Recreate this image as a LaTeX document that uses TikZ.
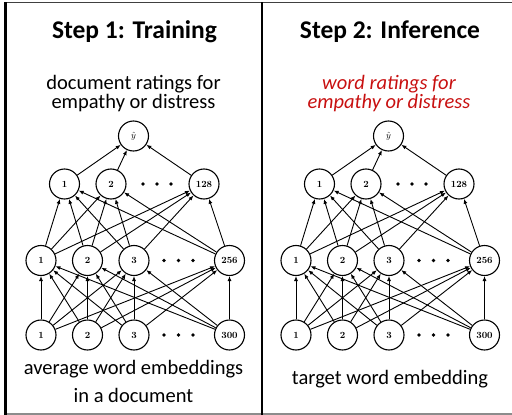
\documentclass[tikz,border=0pt]{standalone}
\usepackage{fontspec}
\newfontfamily\calfont{Carlito}
\usetikzlibrary{arrows.meta}
\definecolor{redtext}{RGB}{200,16,16}
\tikzset{
  neuron/.style={circle, draw, line width=1.1pt, minimum size=30pt, inner sep=0pt,
    font=\bfseries\fontsize{9.5}{10}\selectfont},
  conn/.style={line width=0.9pt, -{Latex[length=5pt,width=4pt]}},
  title/.style={font=\calfont\bfseries\fontsize{25.5}{30}\selectfont, anchor=base, inner sep=0pt},
  caption/.style={font=\calfont\fontsize{20.5}{24}\selectfont, anchor=base, inner sep=0pt},
  redcap/.style={caption, font=\calfont\itshape\fontsize{20.5}{24}\selectfont, text=redtext},
  frame/.style={line width=2.2pt, black},
}
\newcommand\drawnet[2]{%
  \begin{scope}[xshift=#2]
    \node[neuron] (#1y) at (133.5,136) {$\hat y$};
    \node[neuron] (#1a1) at (64.5,184) {1};
    \node[neuron] (#1a2) at (111,184) {2};
    \node[neuron] (#1a3) at (204,184) {128};
    \node[neuron] (#1b1) at (41,260.5) {1};
    \node[neuron] (#1b2) at (87.5,260.5) {2};
    \node[neuron] (#1b3) at (134,260.5) {3};
    \node[neuron] (#1b4) at (229.5,260.5) {256};
    \node[neuron] (#1c1) at (41,335) {1};
    \node[neuron] (#1c2) at (87.5,335) {2};
    \node[neuron] (#1c3) at (134,335) {3};
    \node[neuron] (#1c4) at (229.5,335) {300};
    \foreach \dx in {143,157,171}{\fill (\dx,184) circle (1.8);}
    \foreach \dx in {164,178.5,193}{\fill (\dx,260.5) circle (1.8);\fill (\dx,335) circle (1.8);}
    \foreach \i in {1,...,4}{\foreach \j in {1,...,4}{\draw[conn] (#1c\i) -- (#1b\j);}}
    \foreach \i in {1,...,4}{\foreach \j in {1,...,3}{\draw[conn] (#1b\i) -- (#1a\j);}}
    \foreach \j in {1,...,3}{\draw[conn] (#1a\j) -- (#1y);}
  \end{scope}}
\begin{document}
\begin{tikzpicture}[x=1pt,y=-1pt]
  \useasboundingbox (0,0) rectangle (512,415);
  % frame
  \draw[line width=1.5pt, black!75] (4.4,2.5) -- (512,2.5);
  \draw[line width=1.2pt, black!45] (4.4,414) -- (512,414);
  \draw[frame] (5.5,2) -- (5.5,414.5);
  \draw[frame] (262,2) -- (262,414.5);
  % titles
  \node[title] (t1) at (134.5,38) {Step 1: Training};
  \node[title] (t2) at (390,38) {Step 2: Inference};
  % captions top
  \node[caption] (s1a) at (133.5,89) {document ratings for};
  \node[caption] (s1b) at (133.5,108) {empathy or distress};
  \node[redcap] (s2a) at (389,89) {word ratings for};
  \node[redcap] (s2b) at (389,108) {empathy or distress};
  % captions bottom
  \node[caption] (b1a) at (133.5,374) {average word embeddings};
  \node[caption] (b1b) at (133.5,402) {in a document};
  \node[caption] (b2) at (390,384) {target word embedding};
  % networks
  \drawnet{L}{0pt}
  \drawnet{R}{255pt}
\end{tikzpicture}
\end{document}
